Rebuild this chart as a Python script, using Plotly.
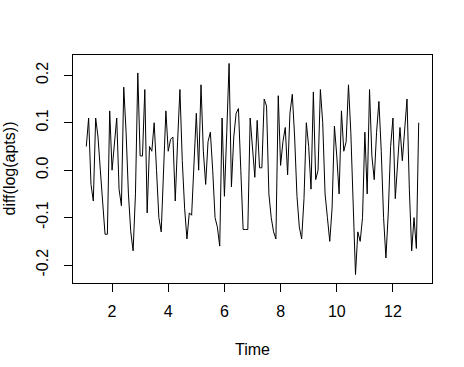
import plotly.graph_objects as go

start_year = 1
frequency = 12
values = [
    0.05, 0.11, -0.03, -0.065, 0.11, 0.07, 0.0, -0.08, -0.135, -0.135, 0.125, 0.0,
    0.06, 0.11, -0.04, -0.075, 0.175, 0.08, -0.05, -0.13, -0.17, -0.05, 0.205, 0.03,
    0.03, 0.17, -0.09, 0.05, 0.04, 0.1, 0.0, -0.1, -0.13, -0.01, 0.125, 0.04,
    0.065, 0.07, -0.065, 0.06, 0.17, 0.02, -0.08, -0.145, -0.09, -0.095, 0.0, 0.12,
    0.0, 0.18, 0.04, -0.03, 0.06, 0.08, 0.0, -0.1, -0.12, -0.16, 0.11, -0.055,
    0.08, 0.225, -0.035, 0.07, 0.12, 0.13, 0.0, -0.125, -0.125, -0.125, 0.11, 0.045,
    -0.015, 0.105, 0.005, 0.005, 0.15, 0.135, -0.05, -0.1, -0.13, -0.145, 0.157, 0.01,
    0.06, 0.09, -0.01, 0.12, 0.16, 0.07, -0.055, -0.12, -0.145, -0.06, 0.1, 0.05,
    -0.04, 0.165, -0.02, 0.0, 0.17, 0.1, -0.05, -0.1, -0.15, -0.08, 0.093, 0.03,
    -0.05, 0.125, 0.04, 0.06, 0.18, 0.08, -0.05, -0.22, -0.13, -0.15, -0.1, 0.08,
    -0.05, 0.17, 0.03, -0.02, 0.08, 0.145, 0.04, -0.1, -0.185, -0.09, 0.05, 0.11,
    -0.06, 0.02, 0.09, 0.02, 0.08, 0.15, -0.04, -0.17, -0.1, -0.165, 0.1,
]
x_ticks = [2, 4, 6, 8, 10, 12]
y_ticks = [-0.2, -0.1, 0.0, 0.1, 0.2]
y_ticklabels = ["-0.2", "-0.1", "0.0", "0.1", "0.2"]

times = [start_year + (i + 1) / frequency for i in range(len(values))]

def ext(lo, hi):
    d = (hi - lo) * 0.04
    return [lo - d, hi + d]

font = dict(family="Liberation Sans, Arial, sans-serif", size=16, color="black")

fig = go.Figure(go.Scatter(x=times, y=values, mode="lines",
                           line=dict(color="black", width=1), hoverinfo="skip"))

W, H = 464, 367
L, R, T, B = 73, 32, 55, 84
PW, PH = W - L - R, H - T - B

fig.update_layout(
    width=W, height=H,
    margin=dict(l=L, r=R, t=T, b=B, pad=0),
    paper_bgcolor="white", plot_bgcolor="white",
    showlegend=False, font=font,
    xaxis=dict(range=ext(min(times), max(times)), tickvals=x_ticks,
               ticktext=[str(v) for v in x_ticks], ticks="outside", ticklen=8,
               tickcolor="black", showline=True, linecolor="black", linewidth=1,
               mirror=True, showgrid=False, zeroline=False, tickfont=font,
               ticklabelstandoff=6),
    yaxis=dict(range=ext(min(values), max(values)), tickvals=y_ticks,
               ticktext=y_ticklabels, ticks="outside", ticklen=8, tickangle=-90,
               tickcolor="black", showline=True, linecolor="black", linewidth=1,
               mirror=True, showgrid=False, zeroline=False, tickfont=font,
               ticklabelstandoff=10),
    annotations=[
        dict(text="Time", xref="paper", yref="paper", x=0.5, y=-(349 - 283) / PH,
             xanchor="center", yanchor="middle", showarrow=False, font=font),
        dict(text="diff(log(apts))", xref="paper", yref="paper",
             x=(8.5 - L) / PW, y=0.5, textangle=-90,
             xanchor="center", yanchor="middle", showarrow=False, font=font),
    ],
)

fig.write_html("out.html", config={"displayModeBar": False},
               post_script="document.body.style.margin='0';")
